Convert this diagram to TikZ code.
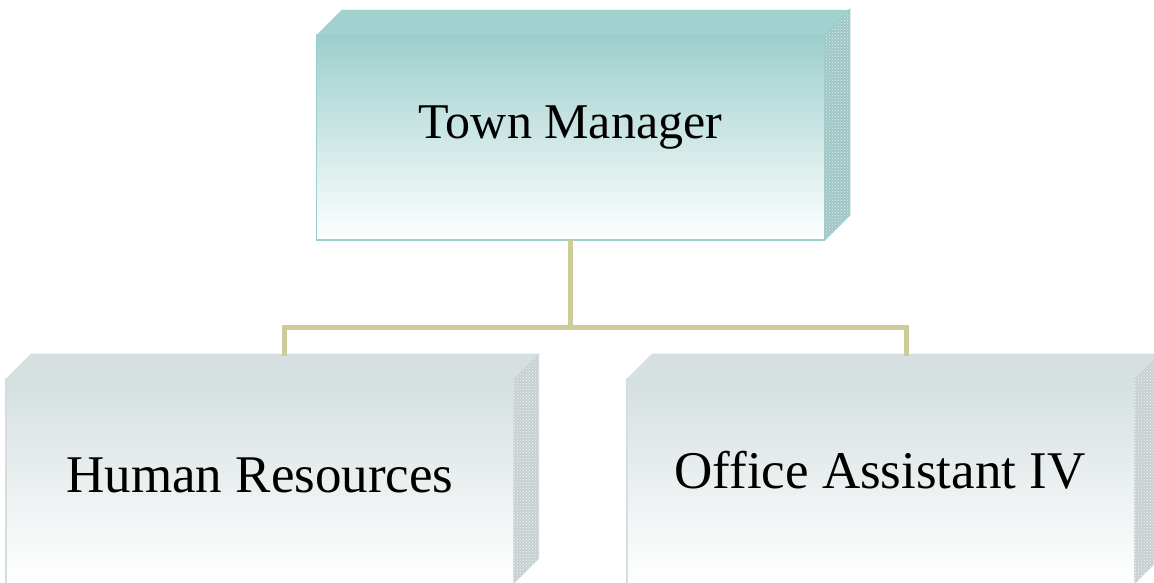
\documentclass[tikz,border=0pt]{standalone}
\usepackage{fontspec}
\setmainfont{Liberation Serif}
\usetikzlibrary{patterns}
\definecolor{tealfront}{HTML}{9DCFCC}
\definecolor{tealtopface}{HTML}{A2D2CF}
\definecolor{tealside}{HTML}{9EC6C4}
\definecolor{tealborder}{HTML}{9ACFCB}
\definecolor{grayfront}{HTML}{D5DFE0}
\definecolor{graytopface}{HTML}{D6E0E1}
\definecolor{grayside}{HTML}{C6D0D1}
\definecolor{grayborder}{HTML}{D3DEDF}
\definecolor{connclr}{HTML}{CCCC99}
\begin{document}
\begin{tikzpicture}[x=1pt,y=-1pt,
  frontbox/.style={rectangle, inner sep=0pt, outer sep=0pt, minimum width=508pt, minimum height=205pt, line width=1.5pt},
  tealbox/.style={frontbox, top color=tealfront, bottom color=white, draw=tealborder},
  graybox/.style={frontbox, top color=grayfront, bottom color=white, draw=grayborder},
  boxtext/.style={font=\fontsize{50}{60}\selectfont, anchor=base, inner sep=0pt},
  bigtext/.style={boxtext, font=\fontsize{53}{63}\selectfont},
  conn/.style={draw=connclr, line width=5pt},
]
\useasboundingbox (0,0) rectangle (1154,583);

% connector junction points
\coordinate (jn) at (570.5,327);
\coordinate (hrtop) at (284,356);
\coordinate (oatop) at (906,356);

% bottom-left box
\node[graybox] (hr) at (260,481) {};
\fill[graytopface] (hr.north west) -- ([shift={(25,-25)}]hr.north west) -- ([shift={(25,-25)}]hr.north east) -- (hr.north east) -- cycle;
\fill[grayside] (hr.north east) -- ([shift={(25,-25)}]hr.north east) -- ([shift={(25,-25)}]hr.south east) -- (hr.south east) -- cycle;
\fill[pattern=crosshatch dots, pattern color=white!80!grayside] (hr.north east) -- ([shift={(25,-25)}]hr.north east) -- ([shift={(25,-25)}]hr.south east) -- (hr.south east) -- cycle;
\node[bigtext] (hrt) at (260,492) {Human Resources};

% bottom-right box
\node[graybox] (oa) at (881,481) {};
\fill[graytopface] (oa.north west) -- ([shift={(25,-25)}]oa.north west) -- ([shift={(25,-25)}]oa.north east) -- (oa.north east) -- cycle;
\fill[grayside] (oa.north east) -- ([shift={(25,-25)}]oa.north east) -- ([shift={(25,-25)}]oa.south east) -- (oa.south east) -- cycle;
\fill[pattern=crosshatch dots, pattern color=white!80!grayside] (oa.north east) -- ([shift={(25,-25)}]oa.north east) -- ([shift={(25,-25)}]oa.south east) -- (oa.south east) -- cycle;
\node[bigtext] (oat) at (880,488) {Office Assistant IV};

% top box
\node[tealbox] (tm) at (570.5,137.5) {};
\fill[tealtopface] (tm.north west) -- ([shift={(25,-25)}]tm.north west) -- ([shift={(25,-25)}]tm.north east) -- (tm.north east) -- cycle;
\fill[tealside] (tm.north east) -- ([shift={(25,-25)}]tm.north east) -- ([shift={(25,-25)}]tm.south east) -- (tm.south east) -- cycle;
\fill[pattern=crosshatch dots, pattern color=white!70!tealside] (tm.north east) -- ([shift={(25,-25)}]tm.north east) -- ([shift={(25,-25)}]tm.south east) -- (tm.south east) -- cycle;
\draw[tealborder, line width=1.5pt] (tm.north east) -- ([shift={(25,-25)}]tm.north east) -- ([shift={(25,-25)}]tm.south east) -- (tm.south east);
\node[boxtext] (tmt) at (570.5,139) {Town Manager};

% connectors
\draw[conn] (tm.south) -- (jn);
\draw[conn] (jn) -| (hrtop);
\draw[conn] (jn) -| (oatop);
\end{tikzpicture}
\end{document}
